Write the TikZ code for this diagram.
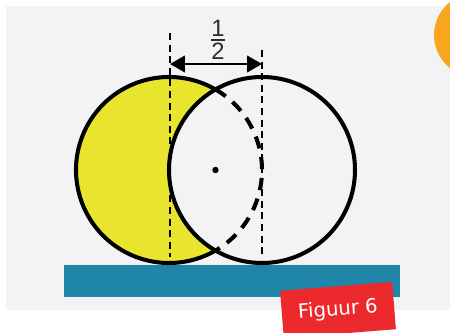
\documentclass[tikz,border=0pt]{standalone}
\usepackage{fontspec}
\usepackage{amsmath}
\setmainfont{Liberation Sans}
\newfontfamily\figfont{DejaVu Sans}
\usetikzlibrary{arrows.meta,calc}
\definecolor{paperGrey}{RGB}{243,243,245}
\definecolor{crescentYellow}{RGB}{233,228,46}
\definecolor{floorTeal}{RGB}{31,134,168}
\definecolor{tagRed}{RGB}{236,42,46}
\definecolor{ballOrange}{RGB}{248,166,30}
\definecolor{digitGrey}{RGB}{45,45,45}

\begin{document}
\begin{tikzpicture}[x=0.02cm,y=0.02cm,>=Latex,
  rim/.style={line width=2.3pt},
  guide/.style={line width=1.1pt,dash pattern=on 4pt off 2.6pt},
  hidden/.style={line width=2.3pt,dash pattern=on 7pt off 5pt}]
\useasboundingbox (0,0) rectangle (450,332);
\clip (0,0) rectangle (450,332);
\fill[white] (0,0) rectangle (450,332);
\fill[paperGrey] (6,22) rectangle (450,326);
\fill[ballOrange] (476,297) circle[radius=42];
\fill[floorTeal] (64,35) rectangle (400,67);
% the two discs
\coordinate (cl) at (169,162);
\coordinate (cr) at (262,162);
\fill[crescentYellow] (cl) circle[radius=93];
\fill[paperGrey] (cr) circle[radius=93];
% guide lines
\coordinate (gl-top) at (170,299);
\coordinate (gl-bot) at (170,75);
\coordinate (gr-top) at (262,282);
\coordinate (gr-bot) at (262,74);
\draw[guide] (gl-top) -- (gl-bot);
\draw[guide] (gr-top) -- (gr-bot);
% outlines
\draw[rim] (cr) circle[radius=93];
\draw[rim] (cl) ++(60:93) arc[start angle=60,end angle=300,radius=93];
\draw[hidden] (cl) ++(60:93) arc[start angle=60,end angle=-60,radius=93];
\fill ($(cl)!0.5!(cr)$) circle[radius=3.2];
% shift
\coordinate (al) at (170,268);
\coordinate (ar) at (262,268);
\draw[{Triangle[length=8.5pt,width=9.5pt]}-{Triangle[length=8.5pt,width=9.5pt]},line width=1.1pt] (al) -- (ar);
\node[text=digitGrey,font=\fontsize{13.5}{16}\selectfont] (half) at (218,292) {$\genfrac{}{}{1.2pt}{1}{\mbox{1}}{\mbox{2}}$};
% caption tag
\node[fill=tagRed,text=white,rotate=4.5,minimum width=64pt,minimum height=27pt,font=\figfont\fontsize{11.2}{13}\selectfont] (tag) at (338,22) {Figuur 6};
\end{tikzpicture}
\end{document}
